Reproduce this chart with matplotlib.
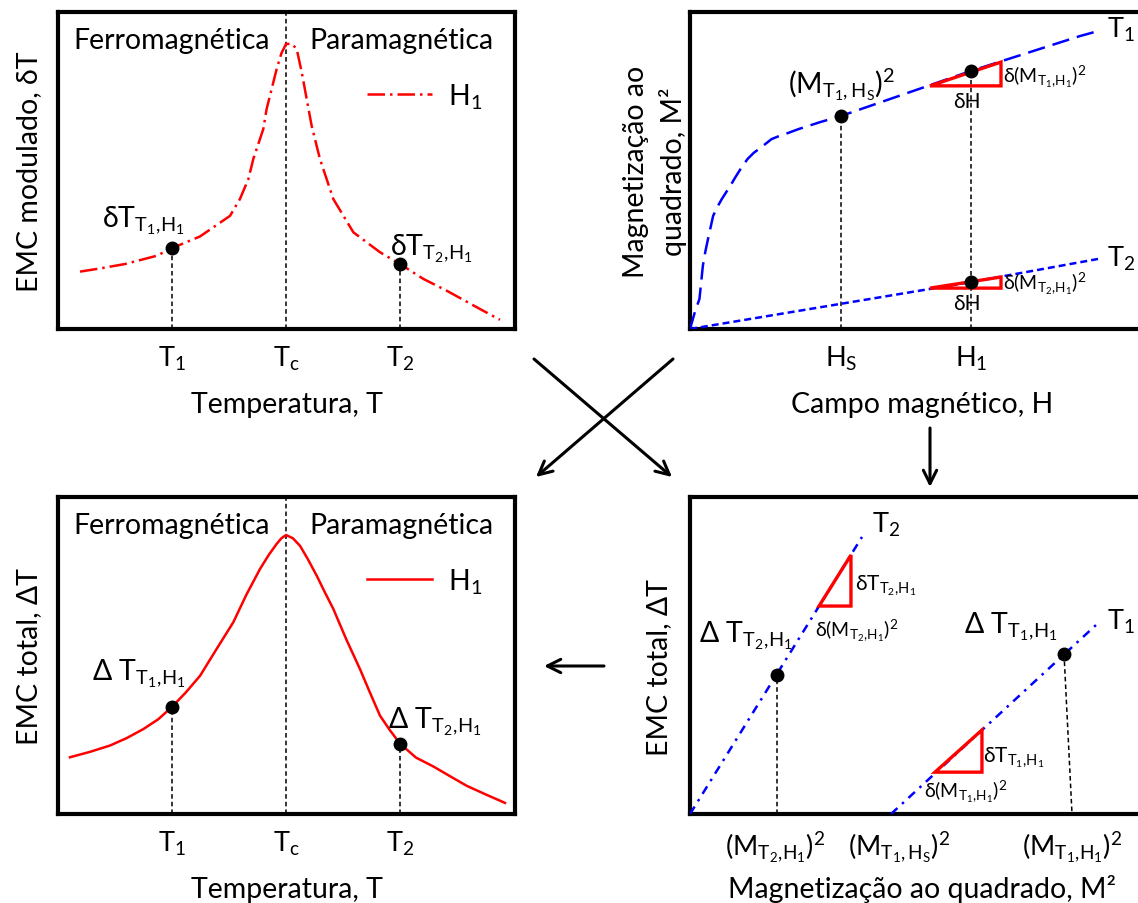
import matplotlib
matplotlib.use("Agg")
import matplotlib.pyplot as plt
from matplotlib.patches import Polygon

plt.rcParams['font.family'] = ['Lato', 'DejaVu Sans']
plt.rcParams['mathtext.fontset'] = 'custom'
plt.rcParams['mathtext.rm'] = 'Lato'
plt.rcParams['mathtext.it'] = 'Lato:italic'
plt.rcParams['mathtext.fallback'] = 'stixsans'

W, H = 1138, 904
FS = 20.5    # main text size
FS_T = 19.5  # tick labels
FS_S = 14    # small labels by the triangles

# ---- data ----
# temperature axis (left panels)
temp_ticks = [1.0, 2.0, 3.0]
temp_labels = [r"$\mathregular{T_1}$", r"$\mathregular{T_c}$", r"$\mathregular{T_2}$"]

# modulated MCE, dT(T) at H1 (top left)
dT_T = [0.193, 0.368, 0.588, 0.866, 1.0, 1.246, 1.509, 1.596, 1.670, 1.713, 1.801, 1.830,
        1.918, 1.96, 2.0, 2.05, 2.094, 2.138, 2.225, 2.298, 2.415, 2.591, 2.825, 3.0, 3.205,
        3.409, 3.702, 3.877]
dT_val = [0.181, 0.191, 0.205, 0.231, 0.255, 0.292, 0.357, 0.410, 0.473, 0.536, 0.631, 0.694,
          0.820, 0.870, 0.899, 0.900, 0.883, 0.810, 0.641, 0.536, 0.410, 0.305, 0.242, 0.205,
          0.158, 0.121, 0.063, 0.029]
dT_pts_T = [1.0, 3.0]
dT_pts_val = [0.255, 0.205]

# total MCE, DT(T) at H1 (bottom left)
DT_T = [0.105, 0.28, 0.456, 0.60, 0.749, 0.88, 1.0, 1.12, 1.246, 1.392, 1.538, 1.65, 1.772,
        1.85, 1.918, 1.96, 2.0, 2.06, 2.123, 2.19, 2.269, 2.34, 2.415, 2.53, 2.649, 2.74,
        2.825, 2.91, 3.0, 3.14, 3.292, 3.44, 3.585, 3.75, 3.921]
DT_val = [0.179, 0.196, 0.216, 0.239, 0.268, 0.299, 0.338, 0.383, 0.436, 0.521, 0.605, 0.690,
          0.773, 0.818, 0.852, 0.870, 0.880, 0.870, 0.846, 0.805, 0.752, 0.700, 0.647, 0.550,
          0.457, 0.380, 0.310, 0.265, 0.222, 0.178, 0.150, 0.119, 0.089, 0.062, 0.035]
DT_pts_T = [1.0, 3.0]
DT_pts_val = [0.338, 0.222]

# M^2 vs H (top right)
field_ticks = [1.325, 2.465]
field_labels = [r"$\mathregular{H_S}$", r"$\mathregular{H_1}$"]
m2_T1_H = [0.0, 0.04, 0.083, 0.113, 0.135, 0.158, 0.203, 0.24, 0.279, 0.354, 0.40, 0.444,
           0.504, 0.56, 0.624, 0.715, 0.77, 0.835, 0.955, 1.05, 1.136, 1.325, 2.465, 3.42,
           3.58]
m2_T1 = [0.0, 0.050, 0.095, 0.200, 0.245, 0.284, 0.357, 0.385, 0.410, 0.452, 0.480, 0.505,
         0.536, 0.556, 0.573, 0.599, 0.607, 0.615, 0.631, 0.642, 0.652, 0.672, 0.814, 0.924,
         0.940]
m2_T2_H = [0.0, 2.465, 3.58]
m2_T2 = [0.0, 0.148, 0.221]
m2_pts_H = [1.325, 2.465, 2.465]
m2_pts_val = [0.672, 0.814, 0.148]
tri_T1_H = [2.105, 2.728, 2.728]
tri_T1_m2 = [0.767, 0.842, 0.767]
tri_T2_H = [2.105, 2.728, 2.728]
tri_T2_m2 = [0.129, 0.164, 0.129]

# DT vs M^2 (bottom right)
msq_ticks = [0.748, 1.833, 3.351]
msq_labels = [r"$\mathregular{(M_{T_2,\!H_1})^2}$", r"$\mathregular{(M_{T_1,H_S})^2}$",
              r"$\mathregular{(M_{T_1,\!H_1})^2}$"]
lin_T2_m = [0.0, 1.509]
lin_T2 = [0.0, 0.874]
lin_T1_m = [1.763, 3.561]
lin_T1 = [0.0, 0.596]
lin_pts_m = [0.763, 3.281]
lin_pts_val = [0.438, 0.505]
drop_T1_m = [3.281, 3.351]
drop_T1 = [0.505, 0.0]
tri2_m = [1.132, 1.412, 1.412]
tri2_T = [0.656, 0.817, 0.656]
tri1_m = [2.149, 2.561, 2.561]
tri1_T = [0.132, 0.265, 0.132]

RED = '#FF0000'
BLUE = '#0000FF'
VDASH = dict(color='black', lw=1.1, ls=(0, (3, 2)), zorder=1)


def panel(fig, left, top, width=457, height=317):
    ax = fig.add_axes([left / W, 1 - (top + height) / H, width / W, height / H])
    ax.set_xlim(0, width / 114)
    ax.set_ylim(0, 1)
    for s in ax.spines.values():
        s.set_linewidth(3)
    ax.set_yticks([])
    ax.tick_params(axis='x', length=0, labelsize=FS_T, pad=11)
    return ax


def labels(ax, xlabel, ylabel, ycoord=-0.046, ycenter=0.5):
    ax.set_xlabel(xlabel, fontsize=FS, va='baseline')
    ax.xaxis.set_label_coords(0.5, -0.262)
    ax.set_ylabel(ylabel, fontsize=FS, va='baseline', linespacing=1.4)
    ax.yaxis.set_label_coords(ycoord, ycenter)


def plot_temperature(ax, T, val, pts_T, pts_val, style, ylabel):
    ax.plot(T, val, color=RED, lw=1.8, ls=style, label=r"$\mathregular{H_1}$", zorder=3)
    ax.plot(pts_T, pts_val, 'o', color='black', ms=9, zorder=4)
    for t, v in zip(pts_T, pts_val):
        ax.plot([t, t], [0, v], **VDASH)
    ax.axvline(2.0, **VDASH)
    ax.set_xticks(temp_ticks, temp_labels)
    ax.text(1.0, 0.888, "Ferromagnética", fontsize=FS, ha='center', va='baseline')
    ax.text(3.01, 0.888, "Paramagnética", fontsize=FS, ha='center', va='baseline')
    ax.legend(loc='center left', bbox_to_anchor=(0.676, 0.735), frameon=False, fontsize=FS,
              handlelength=2.3, handletextpad=0.55, borderpad=0, borderaxespad=0)
    labels(ax, "Temperatura, T", ylabel)


def main():
    fig = plt.figure(figsize=(W / 100, H / 100), dpi=100)

    # top left: modulated MCE
    ax = panel(fig, 58, 13)
    plot_temperature(ax, dT_T, dT_val, dT_pts_T, dT_pts_val, (0, (7, 2, 1, 2)),
                     "EMC modulado, δT")
    ax.text(0.386, 0.325, r"$\mathregular{δT_{T_1,\!H_1}}$", fontsize=FS, va='baseline')
    ax.text(2.91, 0.237, r"$\mathregular{δT_{T_2,\!H_1}}$", fontsize=FS, va='baseline')

    # bottom left: total MCE
    ax = panel(fig, 58, 498)
    plot_temperature(ax, DT_T, DT_val, DT_pts_T, DT_pts_val, '-', "EMC total, ΔT")
    ax.text(0.30, 0.426, r"$\mathregular{Δ\ T_{T_1,\!H_1}}$", fontsize=FS, va='baseline')
    ax.text(2.895, 0.274, r"$\mathregular{Δ\ T_{T_2,\!H_1}}$", fontsize=FS, va='baseline')

    # top right: M^2 vs H
    ax = panel(fig, 690, 13, width=465)
    ax.plot(m2_T1_H, m2_T1, color=BLUE, lw=1.8, ls=(0, (7, 3.2)), zorder=3)
    ax.plot(m2_T2_H, m2_T2, color=BLUE, lw=1.8, ls=(0, (2.8, 1.6)), zorder=3)
    for h, v in zip(field_ticks, [0.672, 0.814]):
        ax.plot([h, h], [0, v], **VDASH)
    ax.add_patch(Polygon(list(zip(tri_T1_H, tri_T1_m2)), closed=True, fill=False,
                         ec=RED, lw=2.4, zorder=3))
    ax.add_patch(Polygon(list(zip(tri_T2_H, tri_T2_m2)), closed=True, fill=False,
                         ec=RED, lw=2.4, zorder=3))
    ax.plot(m2_pts_H, m2_pts_val, 'o', color='black', ms=9, zorder=4)
    ax.set_xticks(field_ticks, field_labels)
    ax.text(0.86, 0.748, r"$\mathregular{(M_{T_1,H_S})^2}$", fontsize=FS, va='baseline')
    ax.text(2.746, 0.779, r"$\mathregular{δ(M_{T_1,\!H_1})^2}$", fontsize=FS_S, va='baseline')
    ax.text(2.43, 0.70, "δH", fontsize=FS_S + 1, ha='center', va='baseline')
    ax.text(2.746, 0.126, r"$\mathregular{δ(M_{T_2,\!H_1})^2}$", fontsize=FS_S, va='baseline')
    ax.text(2.43, 0.063, "δH", fontsize=FS_S + 1, ha='center', va='baseline')
    ax.text(3.66, 0.921, r"$\mathregular{T_1}$", fontsize=FS_T, va='baseline')
    ax.text(3.66, 0.199, r"$\mathregular{T_2}$", fontsize=FS_T, va='baseline')
    ax.spines['right'].set_visible(False)
    labels(ax, "Campo magnético, H", "Magnetização ao\nquadrado, M²", ycoord=-0.038)

    # bottom right: DT vs M^2
    ax = panel(fig, 690, 498, width=465)
    style = (0, (3.5, 2.5, 1, 2.5))
    ax.plot(lin_T2_m, lin_T2, color=BLUE, lw=1.8, ls=style, zorder=3)
    ax.plot(lin_T1_m, lin_T1, color=BLUE, lw=1.8, ls=style, zorder=3)
    ax.plot([lin_pts_m[0], lin_pts_m[0]], [0, lin_pts_val[0]], **VDASH)
    ax.plot(drop_T1_m, drop_T1, **VDASH)
    ax.add_patch(Polygon(list(zip(tri2_m, tri2_T)), closed=True, fill=False,
                         ec=RED, lw=2.4, zorder=3))
    ax.add_patch(Polygon(list(zip(tri1_m, tri1_T)), closed=True, fill=False,
                         ec=RED, lw=2.4, zorder=3))
    ax.plot(lin_pts_m, lin_pts_val, 'o', color='black', ms=9, zorder=4)
    ax.set_xticks(msq_ticks, msq_labels)
    ax.text(1.596, 0.89, r"$\mathregular{T_2}$", fontsize=FS_T, va='baseline')
    ax.text(3.66, 0.584, r"$\mathregular{T_1}$", fontsize=FS_T, va='baseline')
    ax.text(1.447, 0.71, r"$\mathregular{δT_{T_2,\!H_1}}$", fontsize=FS_S + 1, va='baseline')
    ax.text(1.096, 0.561, r"$\mathregular{δ(M_{T_2,\!H_1})^2}$", fontsize=FS_S, va='baseline')
    ax.text(0.079, 0.546, r"$\mathregular{Δ\ T_{T_2,\!H_1}}$", fontsize=FS, va='baseline')
    ax.text(2.404, 0.574, r"$\mathregular{Δ\ T_{T_1,\!H_1}}$", fontsize=FS, va='baseline')
    ax.text(2.570, 0.167, r"$\mathregular{δT_{T_1,\!H_1}}$", fontsize=FS_S + 1, va='baseline')
    ax.text(2.053, 0.054, r"$\mathregular{δ(M_{T_1,\!H_1})^2}$", fontsize=FS_S, va='baseline')
    ax.spines['right'].set_visible(False)
    labels(ax, "Magnetização ao quadrado, M²", "EMC total, ΔT", ycoord=-0.05, ycenter=0.465)

    # arrows between the panels
    over = fig.add_axes([0, 0, 1, 1])
    over.set_xlim(0, W)
    over.set_ylim(H, 0)
    over.axis('off')
    arrow = dict(arrowstyle='->', lw=2.2, color='black', mutation_scale=24,
                 shrinkA=0, shrinkB=0)
    over.annotate("", xy=(536, 478), xytext=(673, 360), arrowprops=arrow)
    over.annotate("", xy=(672, 478), xytext=(534, 360), arrowprops=arrow)
    over.annotate("", xy=(930, 488), xytext=(930, 429), arrowprops=arrow)
    over.annotate("", xy=(544, 667), xytext=(604, 667), arrowprops=arrow)

    fig.savefig("out.png", dpi=100)


if __name__ == '__main__':
    main()
